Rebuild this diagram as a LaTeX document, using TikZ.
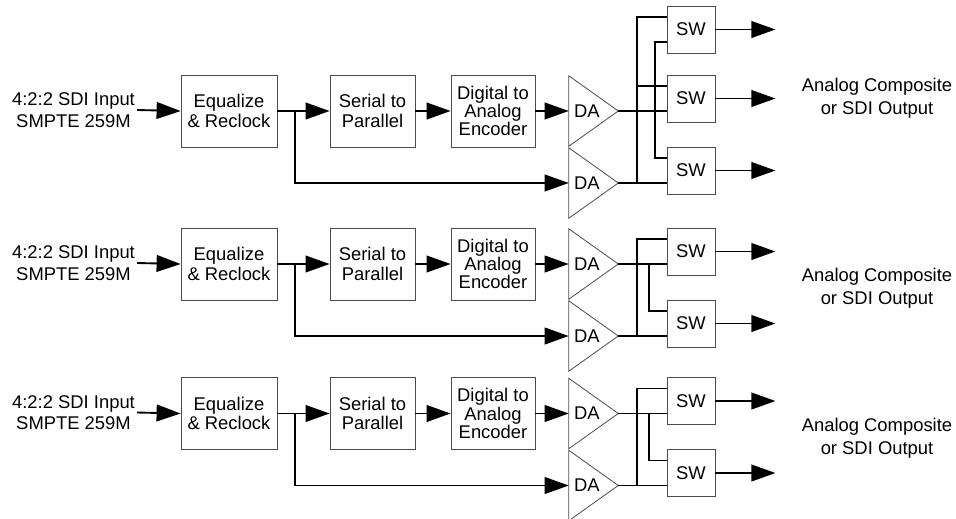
\documentclass[tikz,border=0pt]{standalone}
\usepackage{fontspec}
\setmainfont{Liberation Sans}
\usetikzlibrary{arrows.meta,calc}
\tikzset{
  wire/.style={line width=1.4pt},
  arr/.style={wire,-{Triangle[length=18pt,width=12.5pt]}},
  tri/.style={draw=black!70,line width=0.6pt},
  blk/.style={draw=black!70,line width=0.6pt,inner sep=0pt,align=center,
    font=\fontsize{13.8}{14.5}\selectfont},
  eqbox/.style={blk,minimum width=72pt,minimum height=54pt},
  spbox/.style={blk,minimum width=63.75pt,minimum height=54pt},
  dacbox/.style={blk,minimum width=63pt,minimum height=54pt,
    font=\fontsize{13.8}{13.75}\selectfont},
  swbox/.style={blk,minimum width=36pt,minimum height=35.25pt},
  dabox/.style={inner ysep=0pt,inner xsep=3.75pt,text width=29.25pt,align=left,
    minimum height=52.5pt,font=\fontsize{13.8}{14.5}\selectfont},
  inlbl/.style={inner sep=1.5pt,align=center,font=\fontsize{13.8}{16.2}\selectfont},
  outlbl/.style={inner sep=1.5pt,align=center,font=\fontsize{13.8}{17.25}\selectfont}
}

\begin{document}
\begin{tikzpicture}[x=0.75pt,y=-0.75pt]
  \useasboundingbox (0,0) rectangle (956,518);

  % the three input chains
  \foreach \g/\y in {1/111,2/264,3/413.5}{
    \node[inlbl] (in\g) at (73.5,\y-1) {4:2:2 SDI Input\\SMPTE 259M};
    \node[eqbox] (eq\g) at (229,\y) {Equalize\\\& Reclock};
    \node[spbox] (sp\g) at (372.5,\y) {Serial to\\Parallel};
    \node[dacbox] (dac\g) at (493,\y) {Digital to\\Analog\\Encoder};
    \node[dabox] (daa\g) at (593.5,\y) {DA};
    \node[dabox] (dab\g) at (593.5,\y+72) {DA};
    \draw[tri] (daa\g.north west) -- (daa\g.east) -- (daa\g.south west) -- cycle;
    \draw[tri] (dab\g.north west) -- (dab\g.east) -- (dab\g.south west) -- cycle;
    \coordinate (br\g) at (295,\y); % branch to second DA

    \draw[arr] (in\g.east) -- (eq\g.west);
    \draw[arr] (eq\g.east) -- (sp\g.west);
    \draw[arr] (sp\g.east) -- (dac\g.west);
    \draw[arr] (dac\g.east) -- (daa\g.west);
    \draw[arr] (br\g) |- (dab\g.west);
  }

  % switches, first group
  \node[swbox] (swa1) at (691,29.5) {SW};
  \node[swbox] (swb1) at (691,98.5) {SW};
  \node[swbox] (swc1) at (691,170.5) {SW};
  \foreach \s in {a,b,c}{
    \coordinate (sw\s1-u) at ($(sw\s1.west)+(0,-12.5)$);
    \coordinate (sw\s1-l) at ($(sw\s1.west)+(0,12.5)$);
  }
  \coordinate (busa1) at (637,0);
  \coordinate (busb1) at (655,0);
  \draw[wire] (daa1.east) -- (swb1-l);
  \draw[wire] (dab1.east) -- (swc1-l);
  \draw[wire] (swa1-u) -| (busa1 |- dab1.east);
  \draw[wire] (swb1-u) -- (busa1 |- swb1-u);
  \draw[wire] (swa1-l) -| (busb1 |- swc1-u) -- (swc1-u);
  \foreach \s in {a,b,c}
    \draw[arr] (sw\s1.east) -- ++(60,0) coordinate (o\s1);
  \node[outlbl] (out1) at (877,98) {Analog Composite\\or SDI Output};

  % switches, second and third group
  \foreach \g/\y in {2/264,3/413.5}{
    \node[swbox] (swa\g) at (691,\y-12.5) {SW};
    \node[swbox] (swb\g) at (691,\y+59.5) {SW};
    \foreach \s in {a,b}{
      \coordinate (sw\s\g-u) at ($(sw\s\g.west)+(0,-12.5)$);
      \coordinate (sw\s\g-l) at ($(sw\s\g.west)+(0,12.5)$);
    }
    \coordinate (busa\g) at (637,0);
    \coordinate (busb\g) at (649,0);
    \draw[wire] (daa\g.east) -- (swa\g-l);
    \draw[wire] (dab\g.east) -- (swb\g-l);
    \draw[wire] (swa\g-u) -| (busa\g |- dab\g.east);
    \draw[wire] (busb\g |- daa\g.east) |- (swb\g-u);
    \draw[arr] (swa\g.east) -- ++(60,0) coordinate (oa\g);
    \draw[arr] (swb\g.east) -- ++(60,0) coordinate (ob\g);
    \node[outlbl] (out\g) at (877,\y+24.5) {Analog Composite\\or SDI Output};
  }
\end{tikzpicture}
\end{document}
